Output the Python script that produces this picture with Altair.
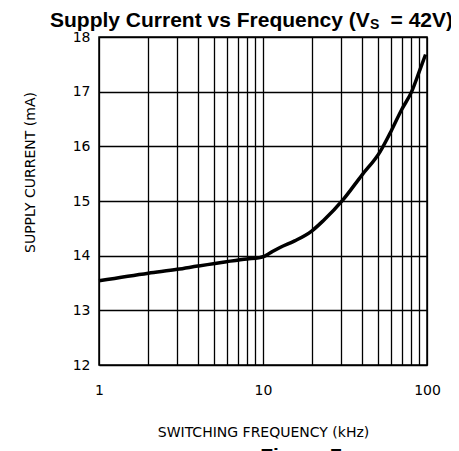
import altair as alt
import pandas as pd

freq_khz = [1, 2, 3, 4, 6, 8, 9.4, 10, 11.2, 12.7, 15.6, 19.8, 23.3, 30.9, 40, 51.7, 60.9, 70, 80.6, 90.5, 98]
current_ma = [13.54, 13.68, 13.75, 13.81, 13.89, 13.94, 13.96, 13.98, 14.06, 14.15, 14.27, 14.45, 14.64, 15.03, 15.47, 15.90, 16.30, 16.67, 17.00, 17.40, 17.68]

x_grid = [1, 2, 3, 4, 5, 6, 7, 8, 9, 10, 20, 30, 40, 50, 60, 70, 80, 90, 100]
x_labels = [1, 10, 100]
y_grid = [12, 12.5, 13, 13.5, 14, 14.5, 15, 15.5, 16, 16.5, 17, 17.5, 18]

df = pd.DataFrame({"f": freq_khz, "i": current_ma})
one = pd.DataFrame({"k": [0]})

FONT = "DejaVu Sans"
TFONT = "Liberation Sans"

line = alt.Chart(df).mark_line(color="black", strokeWidth=3.5, interpolate="monotone").encode(
    x=alt.X("f:Q",
            scale=alt.Scale(type="log", domain=[1, 100], nice=False),
            axis=alt.Axis(values=x_grid, grid=True, gridColor="black", gridWidth=1.3, gridOpacity=1,
                          domain=False, ticks=False, format="d",
                          labelExpr="indexof([1,10,100], datum.value) >= 0 ? datum.label : ''",
                          labelFont=FONT, labelFontSize=14, labelColor="black", labelPadding=18,
                          labelFlush=False, labelOverlap=False,
                          title="SWITCHING FREQUENCY (kHz)", titleFont=FONT, titleFontSize=14,
                          titleFontWeight="normal", titleColor="black",
                          titleY=67, titleBaseline="middle")),
    y=alt.Y("i:Q",
            scale=alt.Scale(domain=[12, 18], nice=False, zero=False),
            axis=alt.Axis(values=y_grid, grid=True, gridColor="black", gridWidth=1.3, gridOpacity=1,
                          domain=False, ticks=False, format="d",
                          labelExpr="datum.value % 1 == 0 ? datum.label : ''",
                          labelFont=FONT, labelFontSize=14, labelColor="black", labelPadding=9,
                          labelFlush=False, labelOverlap=False,
                          title="SUPPLY CURRENT (mA)", titleFont=FONT, titleFontSize=14,
                          titleFontWeight="normal", titleColor="black",
                          titleX=-69, titleY=135, titleAlign="center", titleBaseline="middle")),
)

title_main = alt.Chart(one).mark_text(text="Supply Current vs Frequency (V", font=TFONT, fontSize=21,
                                      fontWeight="bold", align="left", baseline="alphabetic").encode(
    x=alt.value(-49), y=alt.value(-10.5))
title_sub = alt.Chart(one).mark_text(text="S", font=TFONT, fontSize=14,
                                     fontWeight="bold", align="left", baseline="alphabetic").encode(
    x=alt.value(271), y=alt.value(-8.5))
title_end = alt.Chart(one).mark_text(text="= 42V)", font=TFONT, fontSize=21,
                                     fontWeight="bold", align="right", baseline="alphabetic").encode(
    x=alt.value(354), y=alt.value(-10.5))
figure = alt.Chart(one).mark_text(text="Figure 7", font=TFONT, fontSize=21,
                                  fontWeight="bold", align="center", baseline="top").encode(
    x=alt.value(202), y=alt.value(409))

chart = alt.layer(line, title_main, title_sub, title_end, figure).properties(
    width=328, height=328,
    autosize=alt.AutoSizeParams(type="none"),
    padding={"left": 91, "top": 29, "right": 24, "bottom": 86},
).configure_view(stroke="black", strokeWidth=1.5)

chart.save("out.html", embed_options={"renderer": "svg", "actions": False})
